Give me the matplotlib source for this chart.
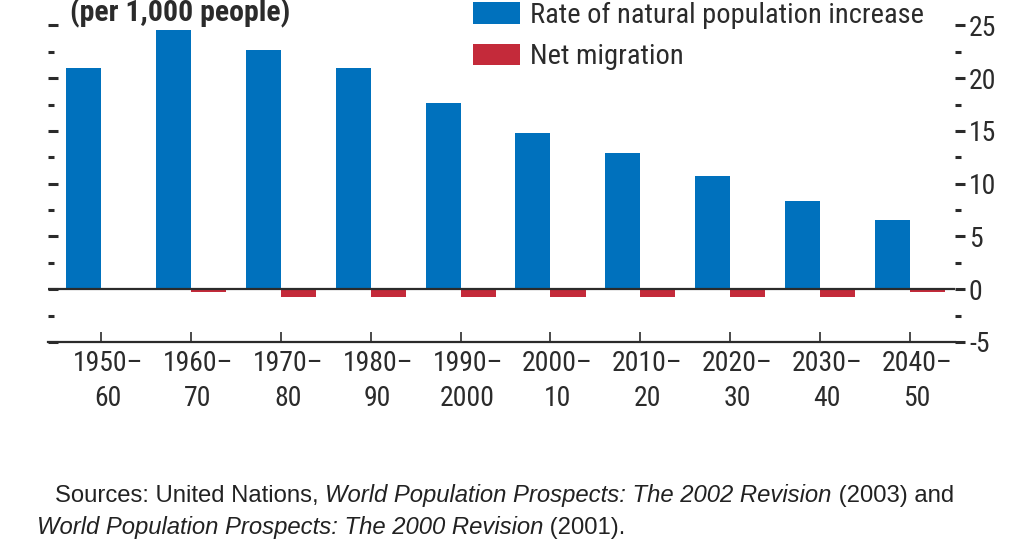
import matplotlib
matplotlib.use("Agg")
import matplotlib.pyplot as plt
import matplotlib.transforms as mtransforms
import numpy as np
from matplotlib.ticker import MultipleLocator

plt.rcParams["axes.unicode_minus"] = False
plt.rcParams["font.family"] = ["Liberation Sans Narrow", "Arial Narrow", "Roboto Condensed",
                               "Liberation Sans", "DejaVu Sans"]

# データ
periods = ["1950–\n60", "1960–\n70", "1970–\n80", "1980–\n90", "1990–\n2000",
           "2000–\n10", "2010–\n20", "2020–\n30", "2030–\n40", "2040–\n50"]
natural_increase = [21.0, 24.6, 22.7, 21.0, 17.6, 14.8, 12.9, 10.7, 8.4, 6.6]
net_migration = [0.0, -0.3, -0.7, -0.7, -0.7, -0.7, -0.7, -0.7, -0.7, -0.3]

blue = "#0071BD"
red = "#C42A3A"
ink = "#2b2b2b"

fig = plt.figure(figsize=(10.24, 5.52), dpi=100)
ax = fig.add_axes([48 / 1024, 1 - 342 / 552, (955 - 48) / 1024, 342 / 552])

x = np.arange(len(periods))
w = 0.39
ax.bar(x - w / 2, natural_increase, width=w, color=blue,
       label="Rate of natural population increase")
ax.bar(x + w / 2, net_migration, width=w, color=red, label="Net migration")
ax.axhline(0, color=ink, lw=1.6, zorder=3)

ax.set_xlim(-0.59, 9.5)
ax.set_ylim(-5, 27.4)

for s in ["top", "left", "right"]:
    ax.spines[s].set_visible(False)
ax.spines["bottom"].set_linewidth(1.6)
ax.spines["bottom"].set_color(ink)

# x軸
ax.set_xticks(x)
ax.set_xticklabels(periods, fontsize=20, linespacing=1.35, color=ink)
ax.tick_params(axis="x", direction="in", length=7, width=1.2, pad=6, color=ink)
offset = mtransforms.ScaledTranslation(0.07, 0, fig.dpi_scale_trans)
for lab in ax.get_xticklabels():
    lab.set_transform(lab.get_transform() + offset)

# y軸 (右にラベル、左は目盛りだけ)
ax.yaxis.set_major_locator(MultipleLocator(5))
ax.yaxis.set_minor_locator(MultipleLocator(2.5))
ax.tick_params(axis="y", which="both", left=True, right=True, labelleft=False,
               labelright=True, color=ink)
ax.tick_params(axis="y", which="major", direction="out", length=7, width=2.2,
               labelsize=20, labelcolor=ink, pad=3)
ax.tick_params(axis="y", which="minor", direction="out", length=4, width=2.2)
for t in ax.yaxis.get_major_ticks() + ax.yaxis.get_minor_ticks():
    t.tick1line.set_marker(matplotlib.lines.TICKRIGHT)

fig.text(70 / 1024, 1 - 13 / 552, "(per 1,000 people)", fontsize=21.5, fontweight="bold",
         color=ink, va="center")

ax.legend(loc="upper left", bbox_to_anchor=(473 / 1024, 1 - 2 / 552),
          bbox_transform=fig.transFigure, frameon=False, fontsize=20.5,
          handlelength=1.65, handleheight=0.78, handletextpad=0.35,
          labelspacing=0.5, borderpad=0, borderaxespad=0, labelcolor=ink)

# 出典
renderer = fig.canvas.get_renderer()


def run_text(x0, y0, parts):
    xx = x0
    for s, style in parts:
        t = fig.text(xx, y0, s, fontsize=17.2, style=style, va="baseline",
                     color="#222222", family=["Liberation Sans", "DejaVu Sans"])
        xx += t.get_window_extent(renderer=renderer).width / fig.bbox.width


run_text(55 / 1024, 1 - 502 / 552, [
    ("Sources: United Nations, ", "normal"),
    ("World Population Prospects: The 2002 Revision", "italic"),
    (" (2003) and", "normal"),
])
run_text(37 / 1024, 1 - 534 / 552, [
    ("World Population Prospects: The 2000 Revision", "italic"),
    (" (2001).", "normal"),
])

fig.savefig("out.png", dpi=100)
